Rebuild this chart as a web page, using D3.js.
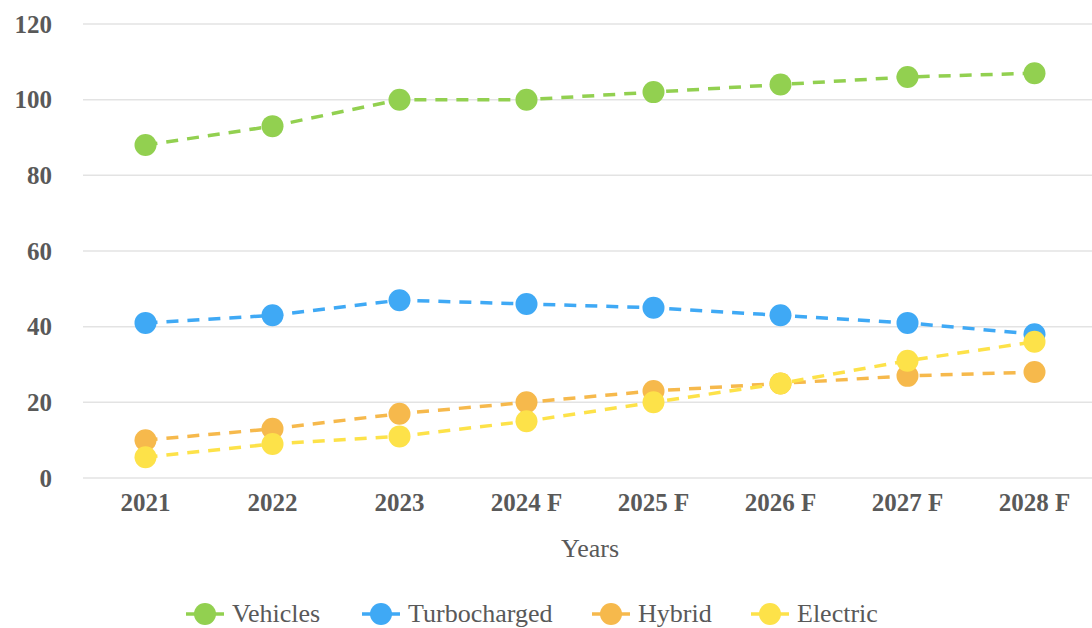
<!DOCTYPE html>
<html>
<head>
<meta charset="utf-8">
<script src="https://cdn.jsdelivr.net/npm/d3@7"></script>
<style>
    body { margin: 0; background: #fff; }
    svg { display: block; font-family: "Liberation Serif", "Times New Roman", serif; }
</style>
</head>
<body>
<svg id="chart" width="1092" height="628"></svg>
<script>
(function () {
    'use strict';

    const years = ['2021', '2022', '2023', '2024 F', '2025 F', '2026 F', '2027 F', '2028 F'];
    const vehicles = [88, 93, 100, 100, 102, 104, 106, 107];
    const turbocharged = [41, 43, 47, 46, 45, 43, 41, 38];
    const hybrid = [10, 13, 17, 20, 23, 25, 27, 28];
    const electric = [5.5, 9, 11, 15, 20, 25, 31, 36];
    const yTicks = [0, 20, 40, 60, 80, 100, 120];

    const series = [
        { name: 'Vehicles', values: vehicles, color: '#92d050' },
        { name: 'Turbocharged', values: turbocharged, color: '#3fa9f5' },
        { name: 'Hybrid', values: hybrid, color: '#f6b94c' },
        { name: 'Electric', values: electric, color: '#fde249' }
    ];

    let svg = d3.select('#chart');

    let x = d3.scaleBand()
        .domain(years)
        .range([82, 1098]);
    let y = d3.scaleLinear()
        .domain([0, 120])
        .range([478, 24]);

    // gridlines
    svg.append('g')
        .selectAll('line')
        .data(yTicks)
        .enter()
        .append('line')
        .attr('x1', 83)
        .attr('x2', 1092)
        .attr('y1', d => y(d))
        .attr('y2', d => y(d))
        .style('stroke', '#e3e3e3')
        .style('stroke-width', 1.5);

    // y axis labels
    let yAxis = d3.axisLeft(y).tickValues(yTicks).tickSize(0).tickPadding(0);
    let yg = svg.append('g')
        .attr('transform', 'translate(52,0)')
        .call(yAxis);
    yg.select('.domain').remove();
    yg.selectAll('text')
        .style('font-family', '"Liberation Serif", serif')
        .style('font-size', '25px')
        .style('font-weight', 'bold')
        .style('fill', '#595959');

    // x axis labels
    let xAxis = d3.axisBottom(x).tickSize(0).tickPadding(0);
    let xg = svg.append('g')
        .attr('transform', 'translate(0,493)')
        .call(xAxis);
    xg.select('.domain').remove();
    xg.selectAll('text')
        .style('font-family', '"Liberation Serif", serif')
        .style('font-size', '25px')
        .style('font-weight', 'bold')
        .style('fill', '#595959');

    svg.append('text')
        .attr('x', 590)
        .attr('y', 557)
        .attr('text-anchor', 'middle')
        .style('font-size', '26px')
        .style('fill', '#595959')
        .text('Years');

    let cx = d => x(d) + x.bandwidth() / 2;
    let line = d3.line()
        .x((d, i) => cx(years[i]))
        .y(d => y(d));

    let groups = svg.append('g')
        .selectAll('g')
        .data(series)
        .enter()
        .append('g');

    groups.append('path')
        .attr('d', d => line(d.values))
        .style('fill', 'none')
        .style('stroke', d => d.color)
        .style('stroke-width', 3.5)
        .style('stroke-dasharray', '12,9');

    groups.selectAll('circle')
        .data(d => d.values.map((v, i) => ({ v: v, year: years[i], color: d.color })))
        .enter()
        .append('circle')
        .attr('cx', d => cx(d.year))
        .attr('cy', d => y(d.v))
        .attr('r', 11)
        .style('fill', d => d.color);

    // legend
    const legendX = [205, 381, 611, 770];
    let legend = svg.append('g')
        .selectAll('g')
        .data(series)
        .enter()
        .append('g')
        .attr('transform', (d, i) => 'translate(' + legendX[i] + ',614)');
    legend.append('line')
        .attr('x1', -19)
        .attr('x2', 19)
        .style('stroke', d => d.color)
        .style('stroke-width', 3.5);
    legend.append('circle')
        .attr('r', 11)
        .style('fill', d => d.color);
    legend.append('text')
        .attr('x', 27)
        .attr('y', 8)
        .style('font-size', '26px')
        .style('fill', '#595959')
        .text(d => d.name);
})();
</script>
</body>
</html>
